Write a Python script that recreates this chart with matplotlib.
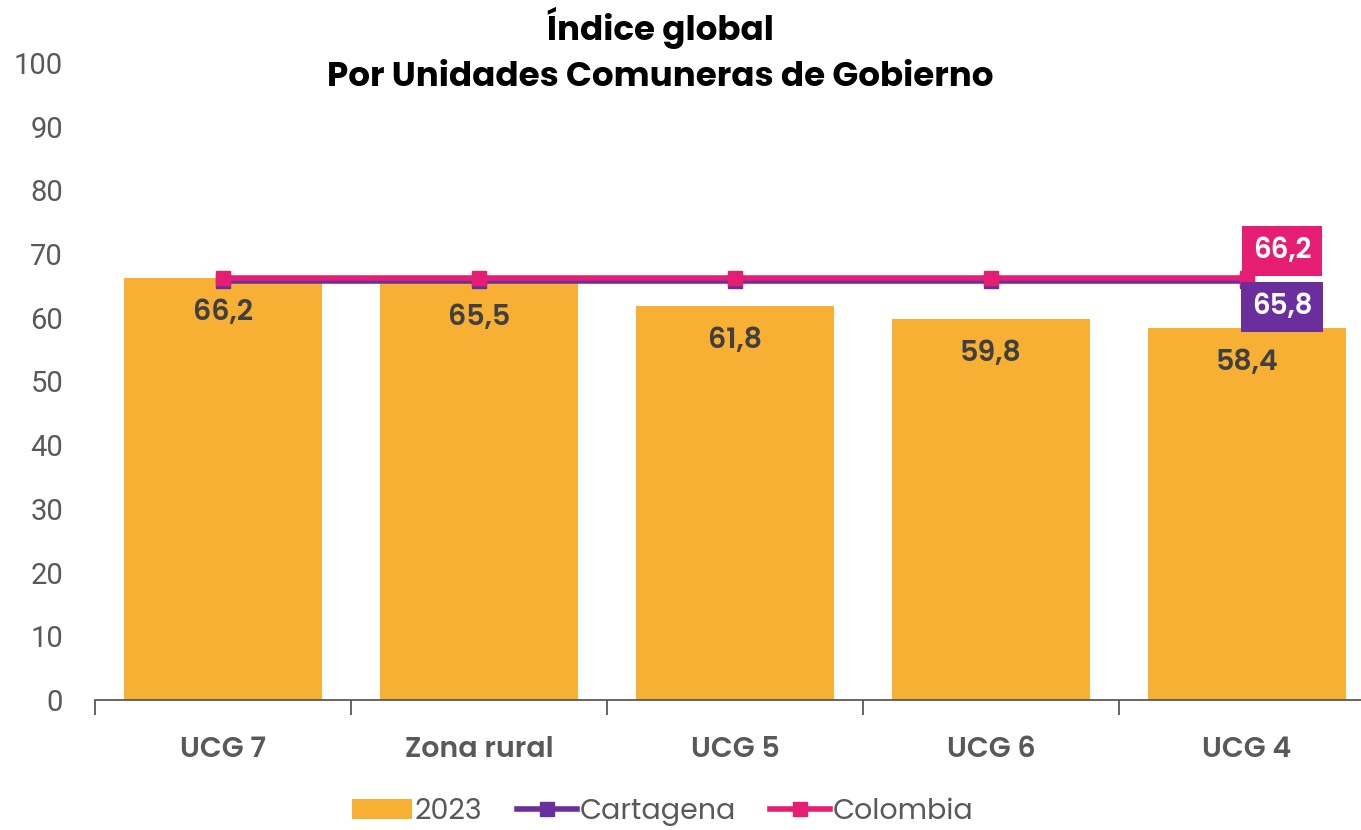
import matplotlib.pyplot as plt
from matplotlib.patches import Patch
from matplotlib.lines import Line2D
import numpy as np

categories = ["UCG 7", "Zona rural", "UCG 5", "UCG 6", "UCG 4"]
values_2023 = [66.2, 65.5, 61.8, 59.8, 58.4]
cartagena = [65.8, 65.8, 65.8, 65.8, 65.8]
colombia = [66.2, 66.2, 66.2, 66.2, 66.2]

bar_color = "#F7B034"
purple = "#6A2F9D"
pink = "#E61E73"
gray = "#595959"

plt.rcParams['font.family'] = ['Poppins', 'Open Sans', 'DejaVu Sans']

fig = plt.figure(figsize=(13.61, 8.30), dpi=100)
ax = fig.add_axes([95 / 1361, 130 / 830, 1280 / 1361, 637 / 830])

x = np.arange(len(categories))
ax.bar(x, values_2023, width=0.77, color=bar_color, zorder=2)

for xi, v in zip(x, values_2023):
    ax.annotate(f"{v:.1f}".replace(".", ","), (xi, v), xytext=(0, -35),
                textcoords="offset pixels", ha="center", va="center",
                fontsize=20.5, fontweight="semibold", color="#404040", zorder=3)

ax.plot(x, cartagena, color=purple, lw=4, marker="s", ms=10, zorder=4)
ax.plot(x, colombia, color=pink, lw=4, marker="s", ms=10, zorder=5)

# value boxes at the end of the lines
ax.annotate(f"{colombia[-1]:.1f}".replace(".", ","), (x[-1], colombia[-1]),
            xytext=(35, 27), textcoords="offset pixels", ha="center", va="center",
            fontsize=20, fontweight="semibold", color="white",
            bbox=dict(boxstyle="square,pad=0.4", fc=pink, ec="none"), zorder=6)
ax.annotate(f"{cartagena[-1]:.1f}".replace(".", ","), (x[-1], cartagena[-1]),
            xytext=(35, -26), textcoords="offset pixels", ha="center", va="center",
            fontsize=20, fontweight="semibold", color="white",
            bbox=dict(boxstyle="square,pad=0.4", fc=purple, ec="none"), zorder=6)

ax.set_xlim(-0.5, len(categories) - 0.5)
ax.set_ylim(0, 100)
ax.set_yticks(range(0, 101, 10))
ax.tick_params(axis="y", length=0, labelsize=21, labelcolor=gray, pad=23)
for lbl in ax.get_yticklabels():
    lbl.set_family("Roboto")

ax.set_xticks(np.arange(-0.5, len(categories), 1.0))
ax.set_xticklabels([])
ax.set_xticks(x, minor=True)
ax.set_xticklabels(categories, minor=True)
ax.tick_params(axis="x", which="major", length=11, width=1.3, color=gray, direction="out")
ax.tick_params(axis="x", which="minor", length=0, pad=26, labelsize=20.5, labelcolor=gray)
for lbl in ax.get_xticklabels(minor=True):
    lbl.set_fontweight("semibold")

for s in ["top", "right", "left"]:
    ax.spines[s].set_visible(False)
ax.spines["bottom"].set_color(gray)
ax.spines["bottom"].set_linewidth(1.3)

fig.text(0.485, 0.966, "Índice global", ha="center", va="center",
         fontsize=24.5, fontweight="bold", color="black")
fig.text(0.485, 0.906, "Por Unidades Comuneras de Gobierno", ha="center", va="center",
         fontsize=24.5, fontweight="bold", color="black")

handles = [
    Patch(facecolor=bar_color, label="2023"),
    Line2D([], [], color=purple, lw=4, marker="s", ms=10, label="Cartagena"),
    Line2D([], [], color=pink, lw=4, marker="s", ms=10, label="Colombia"),
]
fig.legend(handles=handles, loc="center", bbox_to_anchor=(0.487, 0.022), ncol=3,
           frameon=False, prop={"size": 20.5, "weight": "normal"}, labelcolor=gray,
           handlelength=2.1, handleheight=0.7, handletextpad=0.1, columnspacing=1.2)

fig.savefig("out.png", dpi=100)
